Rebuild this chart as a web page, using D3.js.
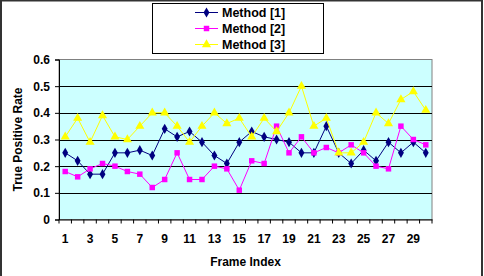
<!DOCTYPE html>
<html>
<head>
<meta charset="utf-8">
<script src="https://cdn.jsdelivr.net/npm/d3@7"></script>
<style>
  body { margin: 0; background: #fff; }
  svg text { font-family: "Liberation Sans", Arial, sans-serif; font-weight: bold; }
</style>
</head>
<body>
<svg id="chart" width="484" height="276"></svg>
<script>
// frame index 1..30
const frames = d3.range(1, 31);
const frameLabels = frames.filter(d => d % 2 === 1);
const yTicks = [0, 0.1, 0.2, 0.3, 0.4, 0.5, 0.6];

const method1 = [0.25, 0.22, 0.17, 0.17, 0.25, 0.25, 0.26, 0.24, 0.34, 0.31,
  0.33, 0.29, 0.24, 0.21, 0.29, 0.33, 0.31, 0.30, 0.29, 0.25,
  0.25, 0.35, 0.25, 0.21, 0.26, 0.22, 0.29, 0.25, 0.29, 0.25];
const method2 = [0.18, 0.16, 0.19, 0.21, 0.20, 0.18, 0.17, 0.12, 0.15, 0.25,
  0.15, 0.15, 0.20, 0.19, 0.11, 0.22, 0.21, 0.35, 0.25, 0.31,
  0.25, 0.27, 0.25, 0.28, 0.25, 0.20, 0.19, 0.35, 0.30, 0.28];
const method3 = [0.31, 0.38, 0.29, 0.39, 0.31, 0.30, 0.35, 0.40, 0.40, 0.35,
  0.29, 0.35, 0.40, 0.36, 0.38, 0.31, 0.38, 0.33, 0.40, 0.50,
  0.35, 0.38, 0.25, 0.25, 0.29, 0.40, 0.36, 0.45, 0.48, 0.41];

const seriesNames = ['Method [1]', 'Method [2]', 'Method [3]'];
const seriesColors = ['#000080', '#ff00ff', '#ffff00'];
const seriesSymbols = [d3.symbolDiamond, d3.symbolSquare, d3.symbolTriangle];
const seriesSizes = [30, 30, 36];

const series = [method1, method2, method3].map((vals, i) => ({
  name: seriesNames[i],
  color: seriesColors[i],
  symbol: seriesSymbols[i],
  size: seriesSizes[i],
  values: vals.map((v, j) => ({ frame: frames[j], value: v }))
}));

const svg = d3.select('#chart');

const plot = { left: 59, right: 432, top: 59.5, bottom: 219.5 };

const x = d3.scaleBand()
  .domain(frames)
  .range([plot.left, plot.right])
  .padding(0);

const y = d3.scaleLinear()
  .domain([0, 0.6])
  .range([plot.bottom, plot.top]);

// outer frame
svg.append('rect')
  .attr('x', 1).attr('y', 0.5)
  .attr('width', 481).attr('height', 280)
  .attr('fill', '#fff')
  .attr('stroke', '#333')
  .attr('stroke-width', 2);

// plot background
svg.append('rect')
  .attr('x', plot.left).attr('y', plot.top)
  .attr('width', plot.right - plot.left)
  .attr('height', plot.bottom - plot.top)
  .attr('fill', '#ccffff')
  .attr('stroke', '#808080')
  .attr('stroke-width', 1);

// gridlines
svg.append('g')
  .selectAll('line')
  .data(yTicks.filter(d => d > 0 && d < 0.6))
  .join('line')
  .attr('x1', plot.left).attr('x2', plot.right)
  .attr('y1', d => Math.round(y(d)) + 0.5)
  .attr('y2', d => Math.round(y(d)) + 0.5)
  .attr('stroke', '#000')
  .attr('stroke-width', 1);

// y axis
const yAxis = svg.append('g')
  .attr('transform', `translate(${plot.left},0)`)
  .call(d3.axisLeft(y).tickValues(yTicks).tickSize(4).tickPadding(5)
    .tickFormat(d => d === 0 ? '0' : d3.format('.1f')(d)));
yAxis.select('.domain').attr('stroke', '#000');
yAxis.selectAll('text').style('font-size', '12px').attr('fill', '#000');

// x axis: tick marks at band edges, labels at odd frames
const edges = frames.map(d => x(d)).concat([x(frames[frames.length - 1]) + x.bandwidth()]);
const xAxis = svg.append('g')
  .attr('transform', `translate(0,${plot.bottom})`)
  .call(d3.axisBottom(x).tickValues(frameLabels).tickSize(0).tickPadding(15));
xAxis.select('.domain').attr('stroke', '#000');
xAxis.selectAll('text').style('font-size', '12px').attr('fill', '#000');
xAxis.append('g')
  .selectAll('line')
  .data(edges)
  .join('line')
  .attr('x1', d => d).attr('x2', d => d)
  .attr('y1', 0).attr('y2', 4)
  .attr('stroke', '#000');

// axis titles
svg.append('text')
  .attr('x', (plot.left + plot.right) / 2)
  .attr('y', 266)
  .attr('text-anchor', 'middle')
  .style('font-size', '12px')
  .text('Frame Index');

svg.append('text')
  .attr('transform', `translate(22,${(plot.top + plot.bottom) / 2}) rotate(-90)`)
  .attr('text-anchor', 'middle')
  .style('font-size', '12px')
  .text('True Positive Rate');

// lines and markers
const line = d3.line()
  .x(d => x(d.frame) + x.bandwidth() / 2)
  .y(d => y(d.value));

series.forEach(s => {
  svg.append('path')
    .datum(s.values)
    .attr('d', line)
    .attr('fill', 'none')
    .attr('stroke', s.color)
    .attr('stroke-width', 1);
  svg.append('g')
    .selectAll('path')
    .data(s.values)
    .join('path')
    .attr('transform', d => `translate(${x(d.frame) + x.bandwidth() / 2},${y(d.value)})`)
    .attr('d', d3.symbol().type(s.symbol).size(s.size))
    .attr('fill', s.color);
});

// legend
const legend = svg.append('g');
legend.append('rect')
  .attr('x', 152.5).attr('y', 3.5)
  .attr('width', 171).attr('height', 50)
  .attr('fill', '#fff')
  .attr('stroke', '#000');

const legendY = d3.scalePoint()
  .domain(seriesNames)
  .range([12.5, 44.5]);

series.forEach(s => {
  const g = legend.append('g')
    .attr('transform', `translate(0,${legendY(s.name)})`);
  g.append('line')
    .attr('x1', 195).attr('x2', 218)
    .attr('stroke', s.color);
  g.append('path')
    .attr('transform', 'translate(206.5,0)')
    .attr('d', d3.symbol().type(s.symbol).size(s.size))
    .attr('fill', s.color);
  g.append('text')
    .attr('x', 222)
    .attr('dy', '0.36em')
    .style('font-size', '12.5px')
    .text(s.name);
});
</script>
</body>
</html>
